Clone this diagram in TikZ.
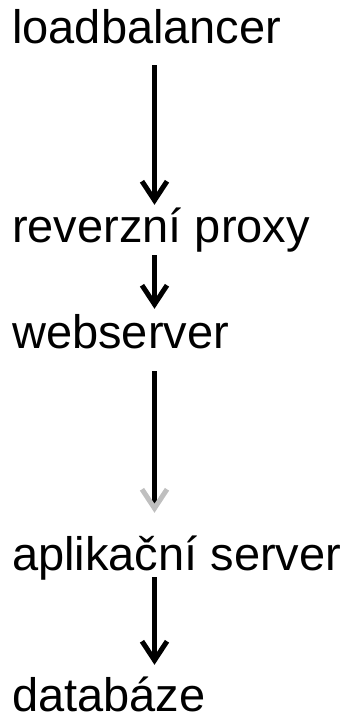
\documentclass[tikz,border=0pt]{standalone}
\usepackage{fontspec}
\setmainfont{Liberation Sans}
\usetikzlibrary{arrows.meta}

\begin{document}
\begin{tikzpicture}[x=1pt,y=-1pt,
    stream/.style={-{Straight Barb[length=19pt,width=25pt]},line width=5pt},
    tier/.style={anchor=base west,inner sep=0pt,text height=34pt,text depth=10pt,
                 font=\fontsize{47}{51}\selectfont}]
    \useasboundingbox (0,0) rectangle (353,721);
    \coordinate (spine) at (154.5,0);
    %tiers
    \node [tier] (lb) at (12,43){loadbalancer};
    \node [tier] (proxy) at (12,242){reverzní proxy};
    \node [tier] (web) at (12,348){webserver};
    \node [tier] (app) at (12,570){aplikační server};
    \node [tier,text depth=0pt] (db) at (12,711){databáze};
    %arrows
    \draw [stream,shorten <=12pt,shorten >=3pt] (lb.south -| spine) -- (proxy.north -| spine);
    \draw [stream,shorten <=3pt,shorten >=5pt] (proxy.south -| spine) -- (web.north -| spine);
    \draw [stream,-{Straight Barb[length=19pt,width=25pt,color=black!25]},
           shorten <=13pt,shorten >=23pt] (web.south -| spine) -- (app.north -| spine);
    \draw [stream,shorten <=-3pt,shorten >=12pt] (app.south -| spine) -- (db.north -| spine);
\end{tikzpicture}
\end{document}
